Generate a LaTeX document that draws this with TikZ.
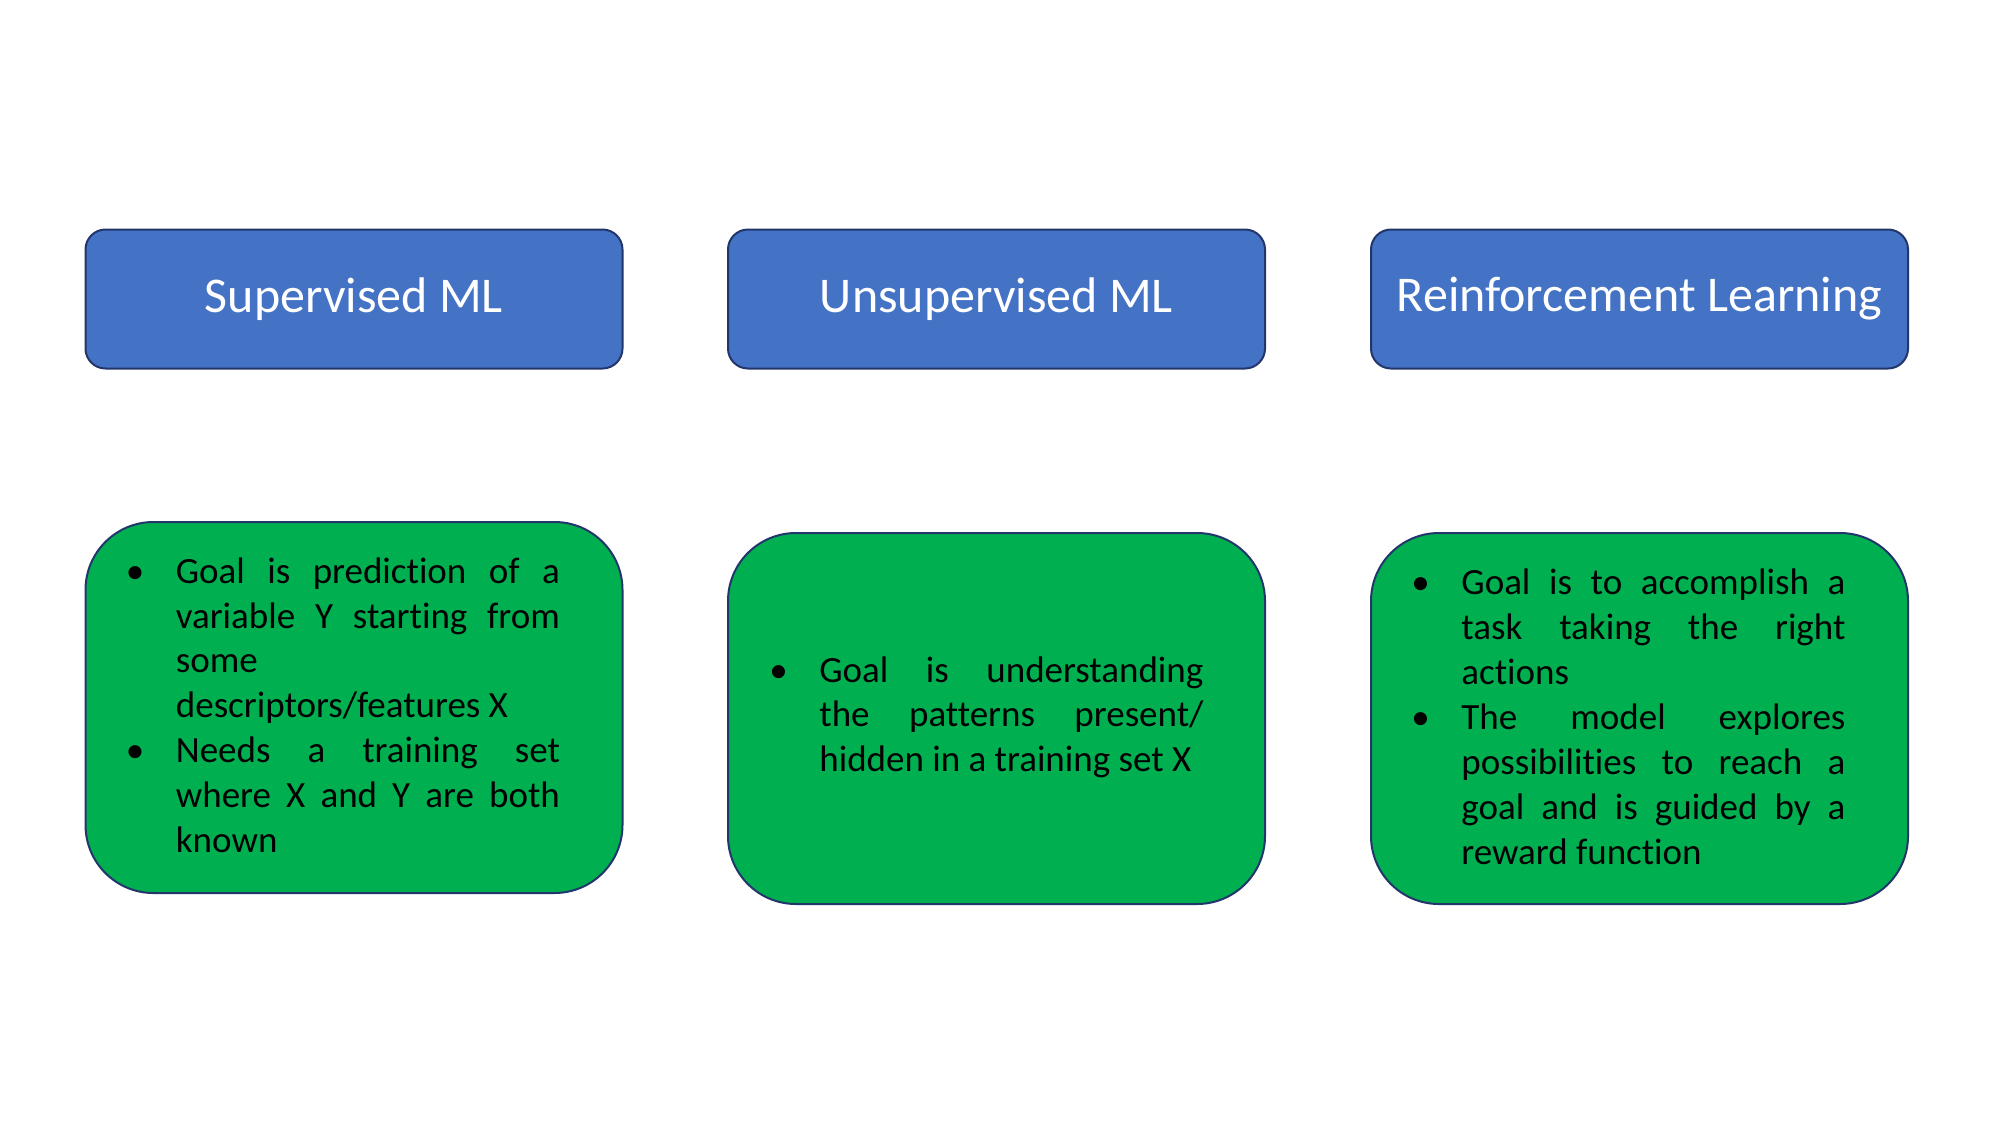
\documentclass[tikz,border=0pt]{standalone}
\usepackage{fontspec}
\setmainfont{Carlito}[Ligatures=NoCommon]
\usetikzlibrary{positioning}

\definecolor{hdrblue}{HTML}{4472C4}
\definecolor{bodygreen}{HTML}{00B050}
\definecolor{edgenavy}{HTML}{22366B}

% bullet item with hanging indent
\newcommand\pitem{\par\noindent\hangindent=21pt\hangafter=1\makebox[21pt][l]{\hspace*{-4pt}\textbullet}}
% paragraph settings for the panel texts
\newcommand\panelsetup{\hyphenpenalty=10000\tolerance=10000\relax}

\tikzset{
  header/.style={draw=edgenavy, line width=1pt, fill=hdrblue, rounded corners=10pt,
    minimum width=268.5pt, minimum height=69.5pt, text=white,
    font=\fontsize{25pt}{30pt}\selectfont, inner sep=0pt},
  panel/.style={draw=edgenavy, line width=1pt, fill=bodygreen, rounded corners=34pt,
    minimum width=268.5pt, minimum height=185.5pt},
  bodytext/.style={anchor=west, inner sep=0pt, text width=213pt, align=justify,
    font=\fontsize{18.5pt}{22.45pt}\selectfont},
}

\begin{document}
\begin{tikzpicture}[x=0.5pt, y=-0.5pt]
  \fill[white] (0,0) rectangle (2000,1125);
  \useasboundingbox (0,0) rectangle (2000,1125);

  % category headers
  \node[header] (h1) at (354,299) {\raisebox{-3.3pt}{Supervised ML}};
  \node[header] (h2) at (996.5,299) {\raisebox{-3.3pt}{Unsupervised ML}};
  \node[header] (h3) at (1639.5,299) {\raisebox{-3.3pt}{Reinforcement Learning}};

  % description panels
  \node[panel] (g1) at (354,707.5) {};
  \node[panel] (g2) at (996.5,718.5) {};
  \node[panel] (g3) at (1639.5,718.5) {};

  \node[bodytext] (t1) at ([xshift=24.5pt,yshift=6pt]g1.west) {\panelsetup
    \pitem Goal is prediction of a\linebreak variable Y starting from\linebreak some\linebreak descriptors/features X
    \pitem Needs a training set\linebreak where X and Y are both\linebreak known\par};

  \node[bodytext] (t2) at ([xshift=25pt,yshift=5.4pt]g2.west) {\panelsetup
    \pitem Goal is understanding\linebreak the patterns present/\linebreak hidden in a training set X\par};

  \node[bodytext] (t3) at ([xshift=24.5pt,yshift=5.7pt]g3.west) {\panelsetup
    \pitem Goal is to accomplish a\linebreak task taking the right\linebreak actions
    \pitem The model explores\linebreak possibilities to reach a\linebreak goal and is guided by a\linebreak reward function\par};
\end{tikzpicture}
\end{document}
